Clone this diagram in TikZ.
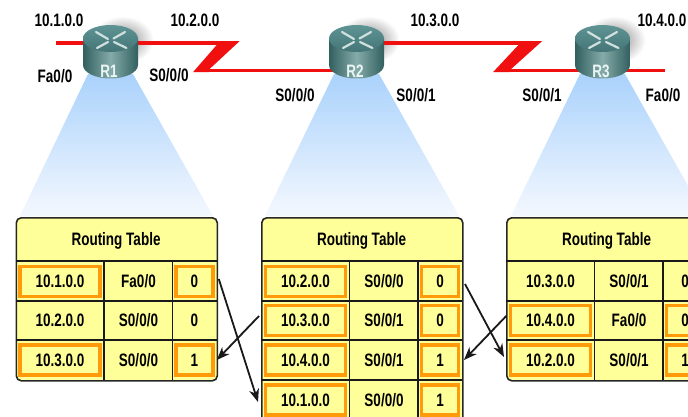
\documentclass[tikz,border=0pt]{standalone}
\usepackage{fontspec}
\setmainfont{Liberation Sans}[FakeStretch=0.75]
\usetikzlibrary{arrows.meta,calc}
\definecolor{rtyellow}{HTML}{FFFF99}
\definecolor{rtorange}{HTML}{FF9A0A}
\definecolor{rtsoft}{HTML}{FFC44D}
\definecolor{rtred}{HTML}{F01010}
\definecolor{conetop}{HTML}{AAD2FC}
\definecolor{conebot}{HTML}{F4F8FE}
\definecolor{tealdk}{HTML}{32605F}
\definecolor{tealmd}{HTML}{84ABA9}
\definecolor{tealtop}{HTML}{5F9494}
\definecolor{tealtopdk}{HTML}{447577}
\definecolor{tealmark}{HTML}{CFE0DE}
\tikzset{
  lbl/.style={font=\bfseries\fontsize{18}{20}\selectfont,text=black,inner sep=0pt},
  cone/.style={bottom color=conebot,top color=conetop,draw=none},
  redline/.style={draw=rtred,line width=3.4pt},
  redzig/.style={fill=rtred,draw=none},
  tableframe/.style={draw=black!85,line width=1.6pt,fill=rtyellow,rounded corners=5pt,inner sep=0pt},
  gridln/.style={draw=black!90,line width=1.3pt},
  cell/.style={lbl,minimum height=30pt},
  softedge/.style={path picture={\draw[rtsoft,line width=3.4pt] (path picture bounding box.south west) rectangle (path picture bounding box.north east);}},
  hlA/.style={cell,draw=rtorange,line width=3.6pt,minimum width=80pt,minimum height=30pt,softedge},
  hlC/.style={cell,draw=rtorange,line width=3.6pt,minimum width=37pt,minimum height=30pt,softedge},
  xfer/.style={-{Stealth[length=13pt,width=10pt,inset=4pt]},line width=1.8pt,draw=black!90},
  rtrlabel/.style={font=\bfseries\fontsize{18}{20}\selectfont,text=white!92!teal,inner sep=0pt},
  routerbox/.style={minimum width=55pt,minimum height=54pt,inner sep=0pt},
}
\newcommand{\rtrshadow}[1]{%
  \begin{scope}[shift={(#1,0)}]
    \path[inner color=black!60,outer color=white,opacity=.8] (12,40) ellipse [x radius=31,y radius=24];
  \end{scope}}
\newcommand{\rtrdraw}[2]{%
  \begin{scope}[shift={(#1,0)}]
    \path[left color=tealdk,right color=tealdk,middle color=tealmd]
      (-27.5,38.5) -- (-27.5,65) arc[start angle=180,end angle=0,x radius=27.5,y radius=13.5] -- (27.5,38.5) -- cycle;
    \path[top color=tealtop,bottom color=tealtopdk] (0,38.5) ellipse [x radius=27.5,y radius=13.5];
    \draw[tealmark,line width=2.2pt,line cap=round] (-14.5,32) -- (-2.5,39);
    \draw[tealmark,line width=2.2pt,line cap=round] (14.5,32) -- (3,38.5);
    \draw[tealmark,line width=2.2pt,line cap=round] (-13.5,48) -- (-2.5,42);
    \draw[tealmark,line width=2.2pt,line cap=round] (16,48) -- (3.5,42);
    \node[rtrlabel] at (-1.5,71.5) {#2};
  \end{scope}}
\newcommand{\rtbl}[3]{%
  \begin{scope}[shift={(#2,0)}]
    \node[tableframe,anchor=north west,minimum width=201pt,minimum height=#3pt] (#1) at (0,217) {};
    \node[lbl] (#1title) at (100.5,240.5) {Routing Table};
    \draw[gridln] (0,261) -- (201,261);
    \draw[gridln] (0,301) -- (201,301);
    \draw[gridln] (0,340) -- (201,340);
    \draw[gridln] (88.5,261) -- (88.5,217+#3);
    \draw[gridln] (157,261) -- (157,217+#3);
  \end{scope}}
\newcommand{\rrow}[9]{%
  \begin{scope}[shift={(#2,0)}]
    \node[#8] (#1a#3) at (44.5,#4) {#5};
    \node[cell] (#1b#3) at (123,#4) {#6};
    \node[#9] (#1c#3) at (179,#4) {#7};
  \end{scope}}
\begin{document}
\begin{tikzpicture}[x=1pt,y=-1pt]
\useasboundingbox (0,0) rectangle (688,416);
\clip (0,0) rectangle (688,416);
\fill[white] (0,0) rectangle (688,416);

\path[cone] (88,74) -- (133,74) -- (213,216) -- (20,216) -- cycle;
\path[cone] (334,74) -- (379,74) -- (459,216) -- (265,216) -- cycle;
\path[cone] (580,74) -- (625,74) -- (705,216) -- (511,216) -- cycle;

\rtrshadow{110.5}
\rtrshadow{356.5}
\rtrshadow{602.5}

\node[routerbox] (R1) at (110.5,52) {};
\node[routerbox] (R2) at (356.5,52) {};
\node[routerbox] (R3) at (602.5,52) {};

\coordinate (lanA) at (56,43);
\coordinate (lanB) at (665,70.5);
\coordinate (zAa) at (222,43);
\coordinate (zAb) at (207,70.5);
\coordinate (zBa) at (527,43);
\coordinate (zBb) at (505,70.5);

\draw[redline] (lanA) -- (R1.center |- lanA);
\draw[redline] (R1.center |- zAa) -- (zAa);
\fill[redzig] (220,41.2) -- (239.5,41.2) -- (208.5,70) -- (209,72.2) -- (193,72.2) -- cycle;
\draw[redline] (zAb) -- (R2.center |- zAb);
\draw[redline] (R2.center |- zBa) -- (zBa);
\fill[redzig] (522,41.2) -- (542,41.2) -- (510,70) -- (510,72.2) -- (493,72.2) -- cycle;
\draw[redline] (zBb) -- (R3.center |- zBb);
\draw[redline] (R3.center |- lanB) -- (lanB);

\rtrdraw{110.5}{R1}
\rtrdraw{356.5}{R2}
\rtrdraw{602.5}{R3}

\node[lbl] (n1) at (59,20) {10.1.0.0};
\node[lbl] (n2) at (195,20) {10.2.0.0};
\node[lbl] (n3) at (435,20) {10.3.0.0};
\node[lbl] (n4) at (662,20) {10.4.0.0};
\node[lbl] (i1) at (55,76) {Fa0/0};
\node[lbl] (i2) at (169,75.5) {S0/0/0};
\node[lbl] (i3) at (295,95) {S0/0/0};
\node[lbl] (i4) at (416,95) {S0/0/1};
\node[lbl] (i5) at (542,95) {S0/0/1};
\node[lbl] (i6) at (663,95) {Fa0/0};

\rtbl{T1}{15.5}{163}
\rtbl{T2}{261}{215}
\draw[gridln] (261,380) -- (462,380);
\rtbl{T3}{506}{163}

\rrow{T1}{15.5}{1}{281.5}{10.1.0.0}{Fa0/0}{0}{hlA}{hlC}
\rrow{T1}{15.5}{2}{320.5}{10.2.0.0}{S0/0/0}{0}{cell}{cell}
\rrow{T1}{15.5}{3}{360}{10.3.0.0}{S0/0/0}{1}{hlA}{hlC}

\rrow{T2}{261}{1}{281.5}{10.2.0.0}{S0/0/0}{0}{hlA}{hlC}
\rrow{T2}{261}{2}{320.5}{10.3.0.0}{S0/0/1}{0}{hlA}{hlC}
\rrow{T2}{261}{3}{360}{10.4.0.0}{S0/0/1}{1}{hlA}{hlC}
\rrow{T2}{261}{4}{400}{10.1.0.0}{S0/0/0}{1}{hlA}{hlC}

\rrow{T3}{506}{1}{281.5}{10.3.0.0}{S0/0/1}{0}{cell}{cell}
\rrow{T3}{506}{2}{320.5}{10.4.0.0}{Fa0/0}{0}{hlA}{hlC}
\rrow{T3}{506}{3}{360}{10.2.0.0}{S0/0/1}{1}{hlA}{hlC}

\draw[xfer] ([xshift=4pt,yshift=2.5pt]T1c1.east) -- ([xshift=-5.7pt,yshift=-2pt]T2a4.west);
\draw[xfer] ([xshift=-4.7pt,yshift=4.5pt]T2a2.west) -- ([xshift=2pt]T1c3.east);
\draw[xfer] ([xshift=4.7pt,yshift=-2.5pt]T2c1.east) -- ([xshift=-4.7pt,yshift=3pt]T3a3.west);
\draw[xfer] ([xshift=-2.5pt,yshift=4.5pt]T3a2.west) -- ([xshift=3.7pt]T2c3.east);
\end{tikzpicture}
\end{document}
